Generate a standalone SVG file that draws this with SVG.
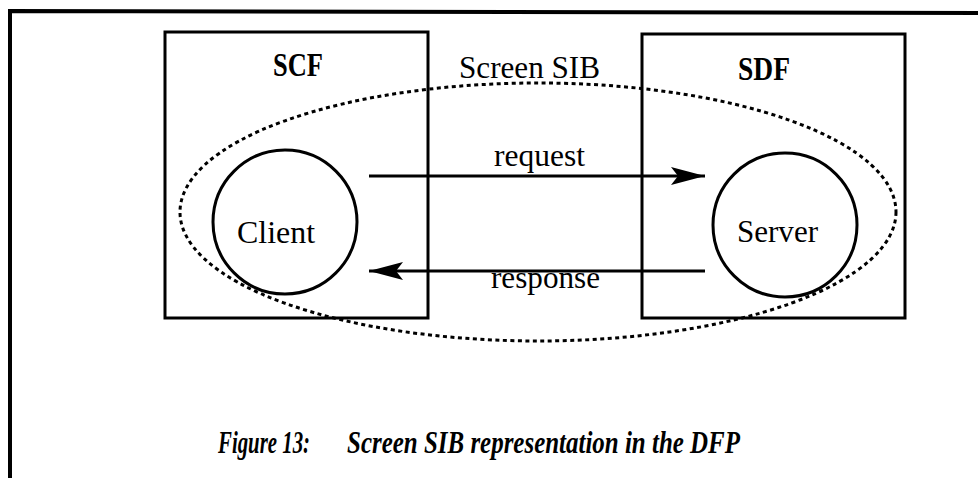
<svg xmlns="http://www.w3.org/2000/svg" width="978" height="478" viewBox="0 0 978 478">
<defs>
<style>
.box{fill:none;stroke:#000;stroke-width:3}
.circ{fill:none;stroke:#000;stroke-width:3}
.lbl{font-family:"Liberation Serif","Times New Roman",serif;font-size:32px;fill:#000}
.bold{font-weight:bold;font-size:33px}
.cap{font-family:"Liberation Serif","Times New Roman",serif;font-size:31px;font-weight:bold;font-style:italic;fill:#000}
.conn{stroke:#000;stroke-width:3;fill:none}
</style>
<marker id="ah" viewBox="0 0 34 18" refX="34" refY="9" markerWidth="34" markerHeight="18" markerUnits="userSpaceOnUse" orient="auto">
<path d="M0,0 L34,9 L0,18 L7,9 Z" fill="#000"/>
</marker>
</defs>
<rect width="978" height="478" fill="#fff"/>
<g id="frame">
<path d="M10,478 L10,11 L978,13" fill="none" stroke="#000" stroke-width="4"/>
</g>
<g id="scf">
<rect class="box" x="165" y="32" width="263" height="286"/>
<text class="lbl bold" x="298" y="76" text-anchor="middle" textLength="50" lengthAdjust="spacingAndGlyphs">SCF</text>
</g>
<g id="sdf">
<rect class="box" x="642" y="34" width="263" height="284"/>
<text class="lbl bold" x="764" y="80" text-anchor="middle" textLength="52" lengthAdjust="spacingAndGlyphs">SDF</text>
</g>
<g id="screen-sib">
<ellipse cx="538" cy="212" rx="358" ry="129" fill="none" stroke="#000" stroke-width="3" stroke-dasharray="4 3.5"/>
<text class="lbl" x="459" y="78" textLength="141" lengthAdjust="spacingAndGlyphs">Screen SIB</text>
</g>
<g id="client">
<circle class="circ" cx="285" cy="222" r="72"/>
<text class="lbl" x="237" y="243" textLength="78" lengthAdjust="spacingAndGlyphs">Client</text>
</g>
<g id="server">
<circle class="circ" cx="785" cy="225" r="72"/>
<text class="lbl" x="737" y="242" textLength="81" lengthAdjust="spacingAndGlyphs">Server</text>
</g>
<g id="connectors">
<line class="conn" x1="369" y1="176" x2="705" y2="176" marker-end="url(#ah)"/>
<line class="conn" x1="705" y1="271" x2="369" y2="271" marker-end="url(#ah)"/>
<text class="lbl" x="494" y="166" textLength="91" lengthAdjust="spacingAndGlyphs">request</text>
<text class="lbl" x="491" y="288" textLength="109" lengthAdjust="spacingAndGlyphs">response</text>
</g>
<g id="caption">
<text class="cap" x="218" y="453" textLength="92" lengthAdjust="spacingAndGlyphs">Figure 13:</text>
<text class="cap" x="347" y="453" textLength="393" lengthAdjust="spacingAndGlyphs">Screen SIB representation in the DFP</text>
</g>
</svg>
